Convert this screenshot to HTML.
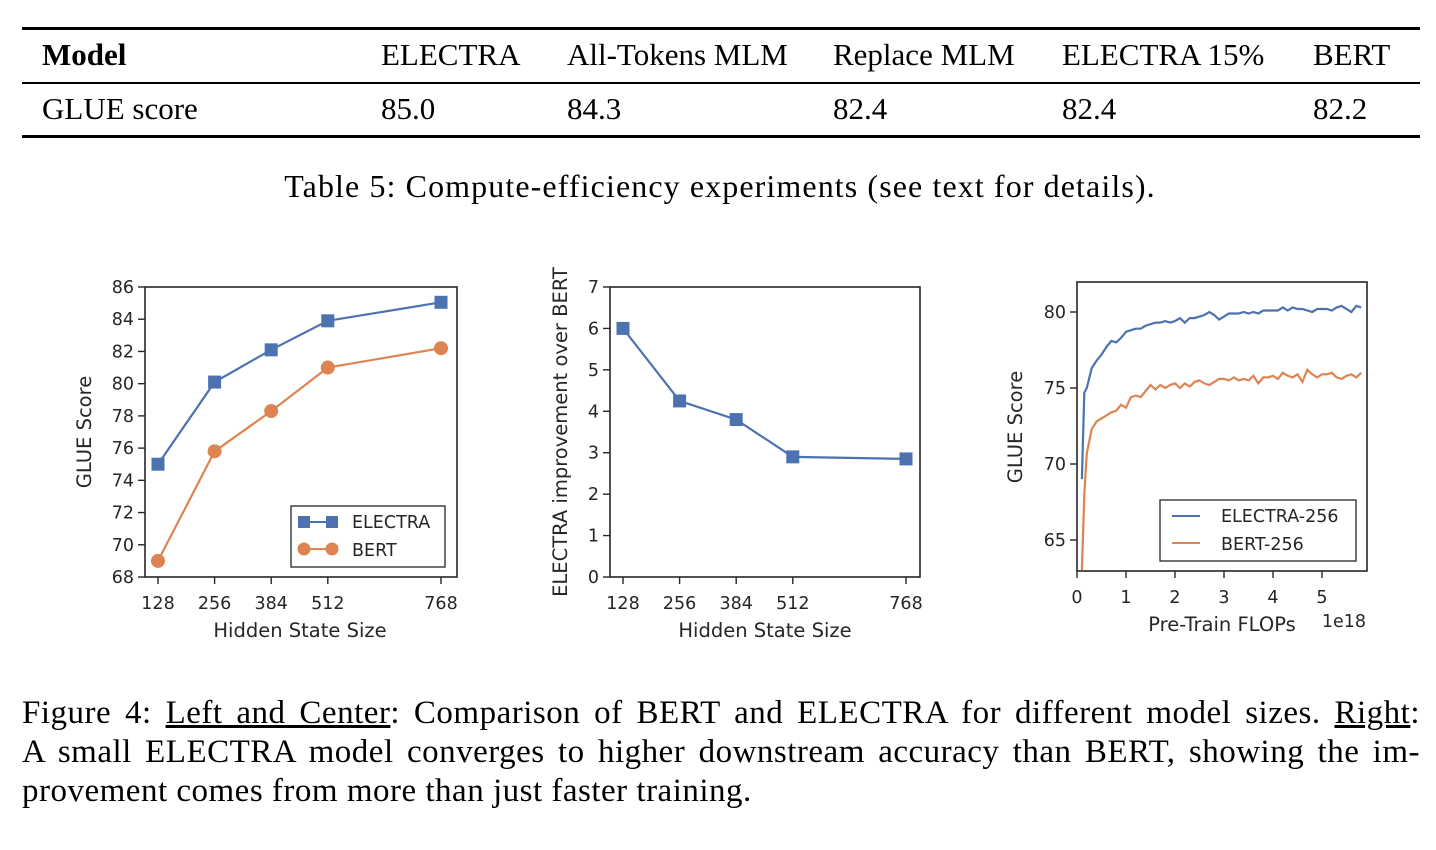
<!DOCTYPE html>
<html><head><meta charset="utf-8">
<style>
body{margin:0;width:1436px;height:850px;background:#fff;position:relative;overflow:hidden;font-family:"Liberation Serif",serif;color:#000}
.t{position:absolute;font-size:31px;white-space:nowrap}
.rule{position:absolute;left:22px;width:1398px;background:#000}
#cap{position:absolute;left:22px;top:694px;width:1398px;font-size:33px;line-height:39px;letter-spacing:0.5px}
#cap div{text-align:justify;text-align-last:justify;white-space:nowrap}
#cap div.last{text-align-last:left}
svg text{font-family:"DejaVu Sans",sans-serif;fill:#262626}
</style></head><body>
<div class="rule" style="top:27px;height:3px"></div>
<div class="rule" style="top:82px;height:1.5px"></div>
<div class="rule" style="top:135px;height:3px"></div>
<div class="t" style="left:42px;top:37px;font-weight:bold">Model</div>
<div class="t" style="left:381px;top:37px">ELECTRA</div>
<div class="t" style="left:567px;top:37px">All-Tokens MLM</div>
<div class="t" style="left:833px;top:37px">Replace MLM</div>
<div class="t" style="left:1062px;top:37px">ELECTRA 15%</div>
<div class="t" style="left:1313px;top:37px">BERT</div>
<div class="t" style="left:42px;top:91px">GLUE score</div>
<div class="t" style="left:381px;top:91px">85.0</div>
<div class="t" style="left:567px;top:91px">84.3</div>
<div class="t" style="left:833px;top:91px">82.4</div>
<div class="t" style="left:1062px;top:91px">82.4</div>
<div class="t" style="left:1313px;top:91px">82.2</div>
<div class="t" style="left:280px;width:880px;text-align:center;top:168px;font-size:32px;letter-spacing:1.1px">Table 5: Compute-efficiency experiments (see text for details).</div>

<svg id="fig" width="1436" height="850" style="position:absolute;left:0;top:0"></svg>

<div id="cap">
<div>Figure 4: <u>Left and Center</u>: Comparison of BERT and ELECTRA for different model sizes. <u>Right</u>:</div>
<div>A small ELECTRA model converges to higher downstream accuracy than BERT, showing the im-</div>
<div class="last">provement comes from more than just faster training.</div>
</div>

<script>
const sizes=[128,256,384,512,768];
const electraGlue=[75.0,80.1,82.1,83.9,85.05];
const bertGlue=[69.0,75.8,78.3,81.0,82.2];
const improvement=[6.0,4.25,3.8,2.9,2.85];
const leftYTicks=[68,70,72,74,76,78,80,82,84,86];
const centerYTicks=[0,1,2,3,4,5,6,7];
const rightYTicks=[65,70,75,80];
const rightXTicks=[0,1,2,3,4,5];
const flops=[0.1,0.15,0.2,0.3,0.4,0.5,0.6,0.7,0.8,0.9,1.0,1.1,1.2,1.3,1.4,1.5,1.6,1.7,1.8,1.9,2.0,2.1,2.2,2.3,2.4,2.5,2.6,2.7,2.8,2.9,3.0,3.1,3.2,3.3,3.4,3.5,3.6,3.7,3.8,3.9,4.0,4.1,4.2,4.3,4.4,4.5,4.6,4.7,4.8,4.9,5.0,5.1,5.2,5.3,5.4,5.5,5.6,5.7,5.8];
const electraCurve=[69,74.7,75.0,76.3,76.8,77.2,77.7,78.1,78.0,78.3,78.7,78.8,78.9,78.9,79.1,79.2,79.3,79.3,79.4,79.3,79.4,79.6,79.3,79.6,79.6,79.7,79.8,80.0,79.8,79.5,79.7,79.9,79.9,79.9,80.0,79.9,80.0,79.9,80.1,80.1,80.1,80.1,80.3,80.1,80.3,80.2,80.2,80.1,80.0,80.2,80.2,80.2,80.1,80.3,80.4,80.2,80.0,80.4,80.3];
const bertCurve=[63,68,70.7,72.3,72.8,73.0,73.2,73.4,73.5,73.9,73.7,74.4,74.5,74.4,74.8,75.2,74.9,75.2,75.0,75.2,75.3,75.0,75.3,75.1,75.4,75.5,75.3,75.2,75.4,75.6,75.6,75.5,75.7,75.5,75.6,75.5,75.8,75.3,75.7,75.7,75.8,75.6,76.0,75.8,75.7,75.9,75.4,76.2,75.9,75.7,75.9,75.9,76.0,75.7,75.6,75.8,75.9,75.7,76.0];

const B='#4c72b0',O='#dd8452',NS='http://www.w3.org/2000/svg';
const svg=document.getElementById('fig');
function el(tag,attrs,parent,text){const e=document.createElementNS(NS,tag);for(const k in attrs)e.setAttribute(k,attrs[k]);if(text!==undefined)e.textContent=text;(parent||svg).appendChild(e);return e;}
function lin(d0,d1,r0,r1){return v=>r0+(v-d0)*(r1-r0)/(d1-d0);}

function frame(g,x0,y0,x1,y1){
  const r=el('rect',{x:x0,y:y0,width:x1-x0,height:y1-y0,fill:'none',stroke:'#262626','stroke-width':1.6},g);
  
  
}
function yTicks(g,ticks,sy,x0){
  ticks.forEach(t=>{const y=sy(t);
    el('line',{x1:x0-7,x2:x0,y1:y,y2:y,stroke:'#262626','stroke-width':1.4},g);
    const tx=el('text',{x:x0-11,y:y+6,'font-size':17.5,'text-anchor':'end'},g,t);
    
    
  });
}
function xTicks(g,ticks,sx,y0){
  ticks.forEach(t=>{const x=sx(t);
    el('line',{x1:x,x2:x,y1:y0,y2:y0+7,stroke:'#262626','stroke-width':1.4},g);
    const tx=el('text',{x:x,y:y0+32,'font-size':17.5,'text-anchor':'middle'},g,t);
    
    
  });
}
function label(g,txt,x,y,rot,name){
  const t=el('text',{x:x,y:y,'font-size':19.5,'text-anchor':'middle',transform:rot?`rotate(-90 ${x} ${y})`:''},g,txt);
  
  
}
function series(g,xs,ys,sx,sy,color,marker,name){
  const pts=xs.map((x,i)=>sx(x).toFixed(1)+','+sy(ys[i]).toFixed(1)).join(' ');
  const p=el('polyline',{points:pts,fill:'none',stroke:color,'stroke-width':2.2},g);
  
  
  if(marker)xs.forEach((x,i)=>{
    const cx=sx(x),cy=sy(ys[i]);let m;
    if(marker==='s')m=el('rect',{x:cx-6.5,y:cy-6.5,width:13,height:13,fill:color},g);
    else m=el('circle',{cx:cx,cy:cy,r:7,fill:color},g);
    
    
  });
}

{const g=el('g',{});
 const sx=lin(128,768,158,441),sy=lin(68,86,577,287);
 frame(g,145,287,457,577);yTicks(g,leftYTicks,sy,145);xTicks(g,sizes,sx,577);
 label(g,'GLUE Score',91,432,true,'y-axis-title');label(g,'Hidden State Size',300,637,false,'x-axis-title');
 series(g,sizes,electraGlue,sx,sy,B,'s','electra');series(g,sizes,bertGlue,sx,sy,O,'o','bert');
 const lg=el('g',{},g);
 el('rect',{x:291,y:506,width:154,height:61,fill:'#fff',stroke:'#262626','stroke-width':1.3},lg);
 el('line',{x1:304,x2:332,y1:522,y2:522,stroke:B,'stroke-width':2},lg);
 el('rect',{x:298,y:516,width:12,height:12,fill:B},lg);el('rect',{x:326,y:516,width:12,height:12,fill:B},lg);
 el('text',{x:352,y:528,'font-size':17.5},lg,'ELECTRA');
 el('line',{x1:304,x2:332,y1:549,y2:549,stroke:O,'stroke-width':2},lg);
 el('circle',{cx:304,cy:549,r:6.5,fill:O},lg);el('circle',{cx:332,cy:549,r:6.5,fill:O},lg);
 el('text',{x:352,y:556,'font-size':17.5},lg,'BERT');
}
{const g=el('g',{});
 const sx=lin(128,768,623,906),sy=lin(0,7,577,287);
 frame(g,610,287,920,577);yTicks(g,centerYTicks,sy,610);xTicks(g,sizes,sx,577);
 label(g,'ELECTRA improvement over BERT',567,432,true,'y-axis-title');label(g,'Hidden State Size',765,637,false,'x-axis-title');
 series(g,sizes,improvement,sx,sy,B,'s','improvement');
}
{const g=el('g',{});
 const sx=lin(0,5,1077,1322),sy=lin(65,80,540,312);
 const cp=el('clipPath',{id:'rc'},g);el('rect',{x:1077,y:282,width:290,height:289},cp);
 frame(g,1077,282,1367,571);yTicks(g,rightYTicks,sy,1077);xTicks(g,rightXTicks,sx,571);
 label(g,'GLUE Score',1022,427,true,'y-axis-title');label(g,'Pre-Train FLOPs',1222,631,false,'x-axis-title');
 const ex=el('text',{x:1366,y:627,'font-size':17.5,'text-anchor':'end'},g,'1e18');
 
 const cg=el('g',{'clip-path':'url(#rc)'},g);
 series(cg,flops,electraCurve,sx,sy,B,null,'electra-256');series(cg,flops,bertCurve,sx,sy,O,null,'bert-256');
 const lg=el('g',{},g);
 el('rect',{x:1160,y:500,width:196,height:61,fill:'#fff',stroke:'#262626','stroke-width':1.3},lg);
 el('line',{x1:1172,x2:1200,y1:516,y2:516,stroke:B,'stroke-width':2},lg);
 el('text',{x:1221,y:522,'font-size':17.5},lg,'ELECTRA-256');
 el('line',{x1:1172,x2:1200,y1:543,y2:543,stroke:O,'stroke-width':2},lg);
 el('text',{x:1221,y:550,'font-size':17.5},lg,'BERT-256');
}
</script>
</body></html>
